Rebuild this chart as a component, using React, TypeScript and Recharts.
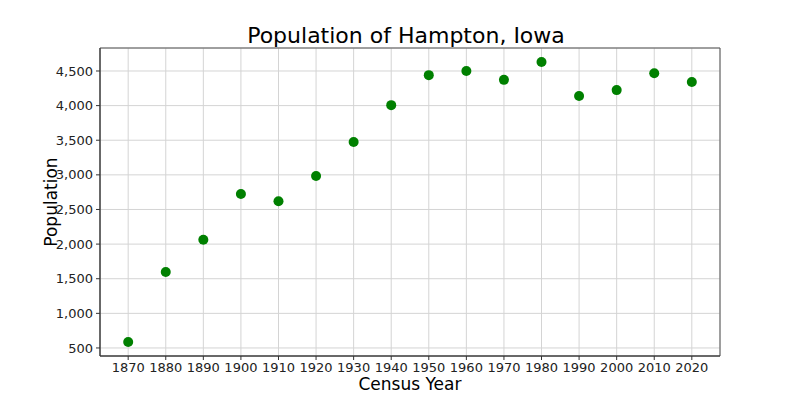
import React from 'react'
import { ScatterChart, Scatter, XAxis, YAxis, CartesianGrid, ReferenceArea, Label } from 'recharts'

const years = [1870, 1880, 1890, 1900, 1910, 1920, 1930, 1940, 1950, 1960, 1970, 1980, 1990, 2000, 2010, 2020]
const population = [587, 1597, 2062, 2724, 2620, 2984, 3475, 4007, 4440, 4501, 4372, 4630, 4138, 4224, 4467, 4340]
const yTicks = [500, 1000, 1500, 2000, 2500, 3000, 3500, 4000, 4500]

const data = years.map((year, i) => ({ year, pop: population[i] }))

const font = 'DejaVu Sans, sans-serif'

const App: React.FC = () => {
  return (
    <div style={{ position: 'absolute', left: 0, top: 0, width: 800, height: 400, background: '#fff', fontFamily: font }}>
      <div style={{ position: 'absolute', top: 21, left: 96, width: 620, textAlign: 'center', fontSize: 22, color: '#000', lineHeight: '30px' }}>
        Population of Hampton, Iowa
      </div>
      <ScatterChart width={800} height={400} margin={{ top: 48, right: 80, bottom: 0, left: 0 }}>
        <CartesianGrid stroke="#d4d4d4" strokeWidth={1} />
        <XAxis
          type="number"
          dataKey="year"
          domain={[1862.5, 2027.5]}
          ticks={years}
          height={44}
          tickSize={4}
          tickMargin={3}
          stroke="#333"
          tick={{ fill: '#222', fontSize: 13, fontFamily: font }}
          allowDataOverflow
        >
          <Label value="Census Year" position="insideBottom" offset={10} style={{ fontSize: 17, fill: '#000', fontFamily: font }} />
        </XAxis>
        <YAxis
          type="number"
          dataKey="pop"
          domain={[384, 4832]}
          ticks={yTicks}
          width={100}
          tickSize={4}
          tickMargin={3}
          stroke="#333"
          tickFormatter={(v: number) => v.toLocaleString('en-US')}
          tick={{ fill: '#222', fontSize: 13, fontFamily: font }}
          allowDataOverflow
        >
          <Label value="Population" angle={-90} position="insideLeft" offset={51} style={{ fontSize: 17, fill: '#000', fontFamily: font, textAnchor: 'middle' }} />
        </YAxis>
        <ReferenceArea x1={1862.5} x2={2027.5} y1={384} y2={4832} fill="none" stroke="#555" strokeWidth={1} ifOverflow="visible" />
        <Scatter data={data} fill="#008000" isAnimationActive={false} shape={(p: any) => <circle cx={p.cx} cy={p.cy} r={5} fill="#008000" />} />
      </ScatterChart>
    </div>
  )
}

export default App
